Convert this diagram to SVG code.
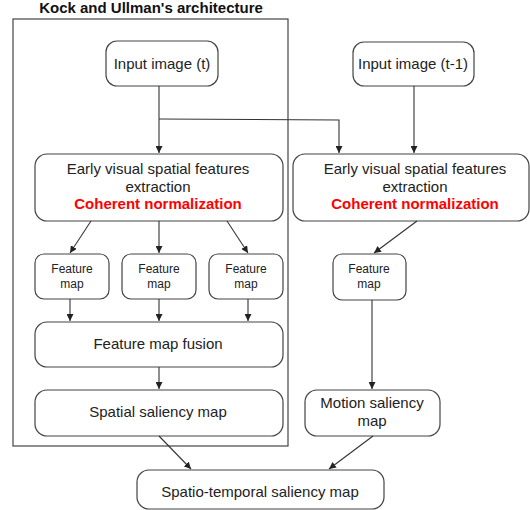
<svg xmlns="http://www.w3.org/2000/svg" width="530" height="510" viewBox="0 0 530 510">
<defs>
<marker id="ah" viewBox="0 0 10 10" refX="10" refY="5" markerWidth="7" markerHeight="7" markerUnits="userSpaceOnUse" orient="auto">
<path d="M0,0 L10,5 L0,10 z" fill="#222"/>
</marker>
</defs>
<style>
.box{fill:#fff;stroke:#444;stroke-width:1.2}
.frame{fill:none;stroke:#444;stroke-width:1.2}
.t{font-family:"Liberation Sans",Arial,sans-serif;font-size:15px;fill:#222;text-anchor:middle}
.s{font-family:"Liberation Sans",Arial,sans-serif;font-size:12px;fill:#222;text-anchor:middle}
.r{font-family:"Liberation Sans",Arial,sans-serif;font-size:15px;font-weight:bold;fill:#ff0000;text-anchor:middle}
.title{font-family:"Liberation Sans",Arial,sans-serif;font-size:15px;font-weight:bold;fill:#111;text-anchor:middle}
.c{fill:none;stroke:#333;stroke-width:1.1;marker-end:url(#ah)}
.cn{fill:none;stroke:#333;stroke-width:1.1}
</style>
<rect x="0" y="0" width="530" height="510" fill="#fff"/>
<g id="frame">
<rect class="frame" x="13" y="19" width="275" height="427"/>
<text class="title" x="151" y="13">Kock and Ullman's architecture</text>
</g>
<g id="input-t">
<rect class="box" x="106" y="41" width="112" height="45" rx="11"/>
<text class="t" x="162" y="69">Input image (t)</text>
</g>
<g id="input-t1">
<rect class="box" x="353" y="42" width="121" height="44" rx="11"/>
<text class="t" x="413" y="69">Input image (t-1)</text>
</g>
<g id="early-left">
<rect class="box" x="35" y="154" width="248" height="67" rx="12"/>
<text class="t" x="158" y="174">Early visual spatial features</text>
<text class="t" x="158" y="192">extraction</text>
<text class="r" x="158" y="209">Coherent normalization</text>
</g>
<g id="early-right">
<rect class="box" x="293" y="154" width="236" height="67" rx="12"/>
<text class="t" x="415" y="174">Early visual spatial features</text>
<text class="t" x="415" y="192">extraction</text>
<text class="r" x="415" y="209">Coherent normalization</text>
</g>
<g id="fm1">
<rect class="box" x="35" y="254" width="74" height="45" rx="9"/>
<text class="s" x="72" y="273">Feature</text>
<text class="s" x="72" y="288">map</text>
</g>
<g id="fm2">
<rect class="box" x="122" y="254" width="74" height="45" rx="9"/>
<text class="s" x="159" y="273">Feature</text>
<text class="s" x="159" y="288">map</text>
</g>
<g id="fm3">
<rect class="box" x="209" y="254" width="74" height="45" rx="9"/>
<text class="s" x="246" y="273">Feature</text>
<text class="s" x="246" y="288">map</text>
</g>
<g id="fm4">
<rect class="box" x="333" y="254" width="73" height="46" rx="9"/>
<text class="s" x="369" y="273">Feature</text>
<text class="s" x="369" y="288">map</text>
</g>
<g id="fusion">
<rect class="box" x="35" y="322" width="248" height="45" rx="12"/>
<text class="t" x="158" y="349">Feature map fusion</text>
</g>
<g id="spatial">
<rect class="box" x="35" y="390" width="248" height="46" rx="12"/>
<text class="t" x="158" y="417">Spatial saliency map</text>
</g>
<g id="motion">
<rect class="box" x="305" y="390" width="135" height="46" rx="12"/>
<text class="t" x="372" y="408">Motion saliency</text>
<text class="t" x="372" y="426">map</text>
</g>
<g id="spatiotemporal">
<rect class="box" x="137" y="470" width="247" height="39" rx="12"/>
<text class="t" x="260" y="497">Spatio-temporal saliency map</text>
</g>
<g id="connectors">
<path class="c" d="M159,86 L159,153"/>
<path class="c" d="M159,119 L339,120 L339,153"/>
<path class="c" d="M414,86 L414,153"/>
<path class="c" d="M91,221 L70,253"/>
<path class="c" d="M159,221 L159,253"/>
<path class="c" d="M227,221 L248,253"/>
<path class="c" d="M417,221 L374,253"/>
<path class="c" d="M70,299 L70,321"/>
<path class="c" d="M159,299 L159,321"/>
<path class="c" d="M248,299 L248,321"/>
<path class="c" d="M372,300 L372,389"/>
<path class="c" d="M159,367 L159,389"/>
<path class="c" d="M159,436 L191,469"/>
<path class="c" d="M373,436 L329,469"/>
</g>
</svg>
